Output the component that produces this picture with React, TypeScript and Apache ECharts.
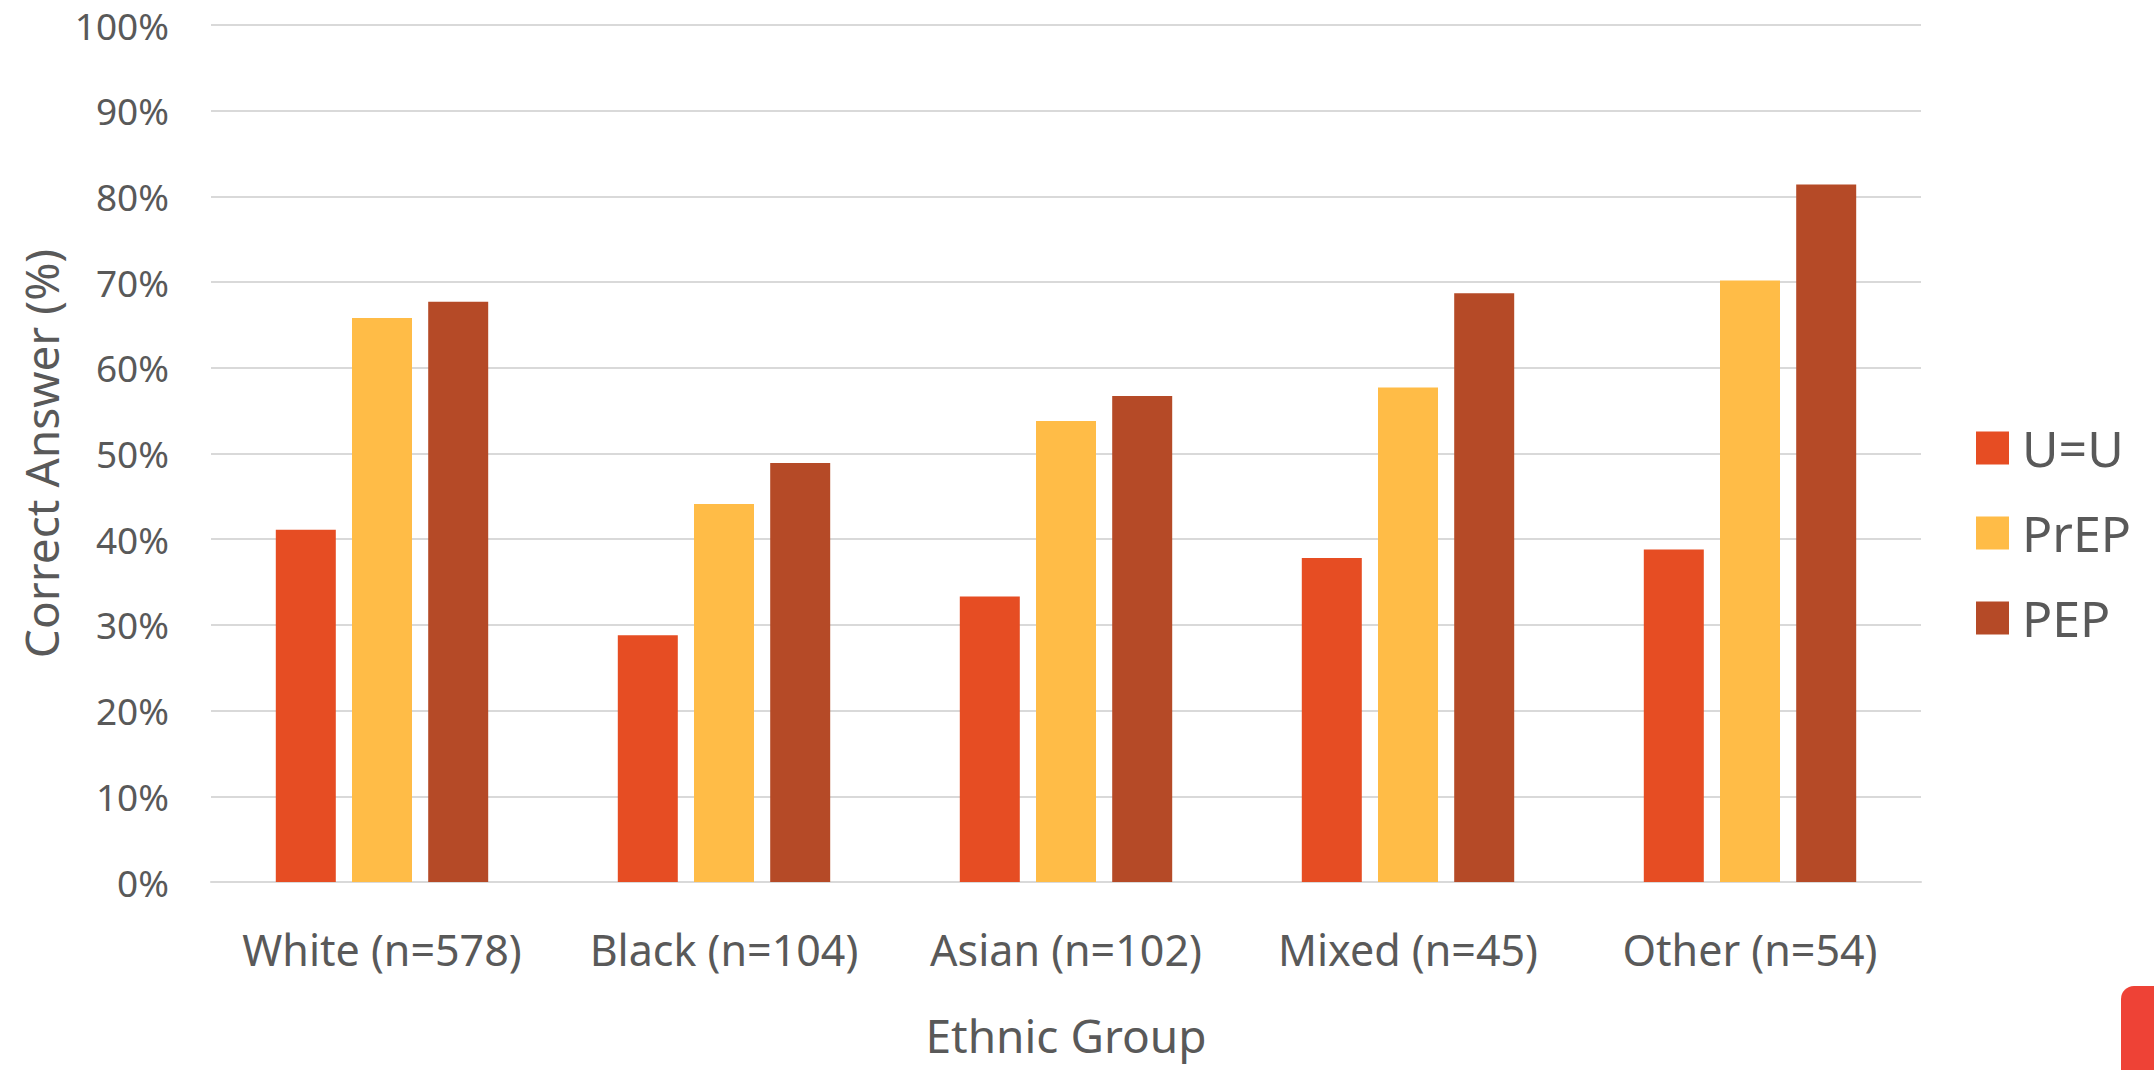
import React, { useEffect, useRef } from "react";
import * as echarts from "echarts";

// Share of correct answers per ethnic group, for three HIV-prevention statements
const categories = [
  "White (n=578)",
  "Black (n=104)",
  "Asian (n=102)",
  "Mixed (n=45)",
  "Other (n=54)",
];
const seriesNames = ["U=U", "PrEP", "PEP"];
const uEqualsU = [41.1, 28.8, 33.3, 37.8, 38.8];
const prep = [65.8, 44.1, 53.8, 57.7, 70.2];
const pep = [67.7, 48.9, 56.7, 68.7, 81.4];
const seriesColors = ["#E64D23", "#FFBC47", "#B54A27"];
const yTicks = [0, 10, 20, 30, 40, 50, 60, 70, 80, 90, 100];

const FONT = "'Noto Sans', 'Open Sans', sans-serif";
const TEXT = "#595959";

export default function App() {
  const ref = useRef<HTMLDivElement>(null);

  useEffect(() => {
    if (!ref.current) return;
    const chart = echarts.init(ref.current, null, { renderer: "svg" });
    const values = [uEqualsU, prep, pep];

    chart.setOption({
      animation: false,
      backgroundColor: "#ffffff",
      textStyle: { fontFamily: FONT },
      grid: { left: 211, right: 233, top: 25, bottom: 188, containLabel: false },
      legend: {
        orient: "vertical",
        left: 1971,
        top: 418,
        itemWidth: 33,
        itemHeight: 33,
        itemGap: 35,
        icon: "rect",
        data: seriesNames,
        textStyle: {
          fontFamily: FONT,
          fontSize: 50,
          lineHeight: 50,
          color: TEXT,
          padding: [0, 0, 0, 8],
        },
      },
      xAxis: {
        type: "category",
        data: categories,
        name: "Ethnic Group",
        nameLocation: "middle",
        nameGap: 130,
        nameTextStyle: { fontFamily: FONT, fontSize: 46, color: TEXT },
        axisLine: { show: true, lineStyle: { color: "#D9D9D9", width: 2 } },
        axisTick: { show: false },
        axisLabel: {
          interval: 0,
          fontFamily: FONT,
          fontSize: 43,
          color: TEXT,
          margin: 46,
        },
      },
      yAxis: {
        type: "value",
        min: yTicks[0],
        max: yTicks[yTicks.length - 1],
        interval: 10,
        name: "Correct Answer (%)",
        nameLocation: "middle",
        nameGap: 146,
        nameTextStyle: { fontFamily: FONT, fontSize: 46, color: TEXT },
        axisLine: { show: false },
        axisTick: { show: false },
        axisLabel: {
          fontFamily: FONT,
          fontSize: 37,
          color: TEXT,
          margin: 42,
          formatter: (v: number) => `${v}%`,
        },
        splitLine: { lineStyle: { color: "#D9D9D9", width: 2 } },
      },
      series: seriesNames.map((name, i) => ({
        name,
        type: "bar",
        data: values[i],
        barWidth: 60,
        barGap: "27%",
        itemStyle: { color: seriesColors[i] },
      })),
      graphic: [
        {
          type: "rect",
          left: 2121,
          top: 986,
          shape: { width: 60, height: 120, r: [13, 0, 0, 0] },
          style: { fill: "#EE4236" },
        },
      ],
    });

    return () => chart.dispose();
  }, []);

  return (
    <div
      ref={ref}
      style={{ position: "fixed", left: 0, top: 0, width: 2154, height: 1070 }}
    />
  );
}
